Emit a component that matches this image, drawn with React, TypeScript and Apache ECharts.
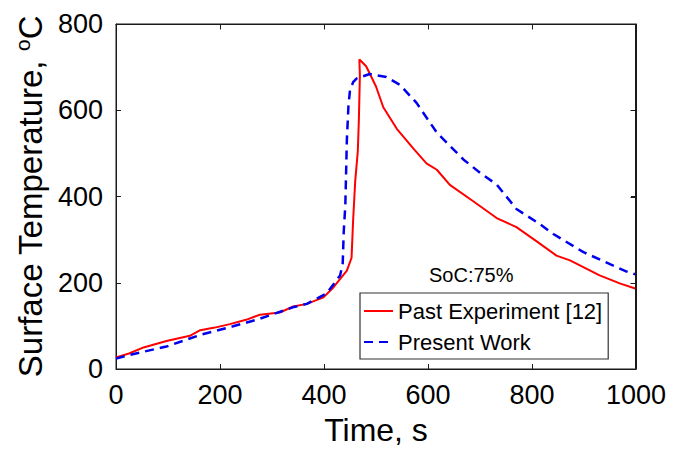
import React, { useEffect, useRef } from "react";
import * as echarts from "echarts";

const xTicks = [0, 200, 400, 600, 800, 1000];
const yTicks = [0, 200, 400, 600, 800];

const pastTime = [0, 25, 53, 97, 142, 162, 190, 219, 250, 277, 315, 341, 367, 399, 418, 432, 444, 453, 456, 460, 465, 467, 469, 468, 473, 481, 490, 500, 514, 540, 572, 597, 617, 642, 687, 732, 770, 809, 847, 873, 930, 970, 1000];
const pastTemp = [27, 36, 50, 65, 77, 90, 96, 104, 114, 126, 131, 145, 151, 166, 189, 210, 228, 258, 345, 435, 505, 575, 680, 718, 712, 702, 680, 655, 607, 557, 511, 477, 462, 427, 389, 350, 329, 296, 263, 252, 217, 198, 186];

const presentTime = [0, 27, 97, 162, 225, 270, 302, 340, 367, 405, 431, 436, 438, 441, 444, 447, 450, 456, 463, 488, 520, 546, 578, 617, 668, 700, 732, 770, 815, 841, 899, 950, 982, 1000];
const presentTemp = [24, 33, 52, 79, 99, 114, 127, 143, 151, 175, 217, 245, 320, 379, 532, 610, 647, 665, 674, 684, 677, 659, 617, 548, 486, 455, 428, 371, 336, 313, 271, 243, 226, 219];

const pastData = pastTime.map((t, i) => [t, pastTemp[i]]);
const presentData = presentTime.map((t, i) => [t, presentTemp[i]]);

const FONT = "Liberation Sans, Arial, sans-serif";

export default function App() {
  const ref = useRef<HTMLDivElement>(null);
  useEffect(() => {
    if (!ref.current) return;
    document.body.style.margin = "0";
    const chart = echarts.init(ref.current, null, { renderer: "svg" });
    const axisCommon = {
      type: "value" as const,
      axisLine: { show: true, onZero: false, lineStyle: { color: "#1a1a1a", width: 1 } },
      axisTick: { show: true, inside: true, length: 5, lineStyle: { color: "#1a1a1a", width: 1 } },
      splitLine: { show: false },
    };
    const fmt = (v: number) => String(v);
    const socText = {
      id: "soc",
      type: "text",
      left: 429,
      top: 265,
      style: { text: "SoC:75%", fontSize: 20, fill: "#000", fontFamily: FONT },
    };
    chart.setOption({
      animation: false,
      textStyle: { fontFamily: FONT },
      grid: {
        left: 116,
        right: 50,
        top: 24,
        bottom: 80,
        containLabel: false,
        show: true,
        borderColor: "#1a1a1a",
        borderWidth: 1,
      },
      xAxis: [
        {
          ...axisCommon,
          position: "bottom",
          min: xTicks[0],
          max: xTicks[xTicks.length - 1],
          interval: 200,
          axisLabel: { fontSize: 27, color: "#000", margin: 12, fontFamily: FONT, formatter: fmt },
          name: "Time, s",
          nameLocation: "middle",
          nameGap: 45,
          nameTextStyle: { fontSize: 32, color: "#000", fontFamily: FONT },
        },
        {
          ...axisCommon,
          position: "top",
          min: xTicks[0],
          max: xTicks[xTicks.length - 1],
          interval: 200,
          axisLabel: { show: false },
        },
      ],
      yAxis: [
        {
          ...axisCommon,
          position: "left",
          min: yTicks[0],
          max: yTicks[yTicks.length - 1],
          interval: 200,
          axisLabel: { fontSize: 27, color: "#000", margin: 13, fontFamily: FONT, formatter: fmt },
          name: "Surface Temperature, {sup|o}C",
          nameLocation: "middle",
          nameGap: 66,
          nameTextStyle: {
            fontSize: 33,
            color: "#000",
            fontFamily: FONT,
            rich: {
              sup: { fontSize: 21, color: "#000", fontFamily: FONT, padding: [0, 0, 17, 0] },
            },
          },
        },
        {
          ...axisCommon,
          position: "right",
          min: yTicks[0],
          max: yTicks[yTicks.length - 1],
          interval: 200,
          axisLabel: { show: false },
        },
      ],
      legend: {
        orient: "vertical",
        left: 360,
        top: 293,
        itemWidth: 29,
        itemHeight: 14,
        itemGap: 7,
        padding: [6, 6, 5, 3],
        borderColor: "#333",
        borderWidth: 1.2,
        borderRadius: 0,
        backgroundColor: "#fff",
        itemStyle: { opacity: 0 },
        textStyle: { fontSize: 22, lineHeight: 24, color: "#000", fontFamily: FONT },
        data: ["Past Experiment [12]", "Present Work"],
      },
      graphic: [socText],
      series: [
        {
          name: "Past Experiment [12]",
          type: "line",
          data: pastData,
          symbol: "none",
          showSymbol: false,
          lineStyle: { color: "#ff0000", width: 2 },
          itemStyle: { color: "#ff0000" },
        },
        {
          name: "Present Work",
          type: "line",
          data: presentData,
          symbol: "none",
          showSymbol: false,
          lineStyle: { color: "#0000ee", width: 2.5, type: [9, 6] },
          itemStyle: { color: "#0000ee" },
        },
      ],
    });

    try {
      const finder = { gridIndex: 0 };
      const lo = chart.convertToPixel(finder as any, [xTicks[0], yTicks[0]]) as number[];
      const hi = chart.convertToPixel(finder as any, [xTicks[xTicks.length - 1], yTicks[yTicks.length - 1]]) as number[];
      if (lo && hi && isFinite(lo[0]) && isFinite(hi[1])) {
        const x0 = Math.round(lo[0]) + 0.5;
        const x1 = Math.round(hi[0]) - 0.5;
        const y0 = Math.round(lo[1]) - 0.5;
        const y1 = Math.round(hi[1]) + 0.5;
        const stroke = { stroke: "#1a1a1a", lineWidth: 1 };
        const extra: any[] = [
          { id: "fTop", type: "line", silent: true, z: 10, shape: { x1: x0, y1: y1, x2: x1, y2: y1 }, style: stroke },
          { id: "fRight", type: "line", silent: true, z: 10, shape: { x1: x1, y1: y1, x2: x1, y2: y0 }, style: stroke },
        ];
        xTicks.slice(1, -1).forEach((v, i) => {
          const p = chart.convertToPixel(finder as any, [v, yTicks[0]]) as number[];
          const x = Math.round(p[0]) + 0.5;
          extra.push({ id: "tx" + i, type: "line", silent: true, z: 10, shape: { x1: x, y1: y1, x2: x, y2: y1 + 5 }, style: stroke });
        });
        yTicks.slice(1, -1).forEach((v, i) => {
          const p = chart.convertToPixel(finder as any, [xTicks[0], v]) as number[];
          const y = Math.round(p[1]) + 0.5;
          extra.push({ id: "ty" + i, type: "line", silent: true, z: 10, shape: { x1: x1, y1: y, x2: x1 - 5, y2: y }, style: stroke });
        });
        chart.setOption({ graphic: [socText, ...extra] });
      }
    } catch (e) {
      // keep the chart as drawn
    }
    return () => chart.dispose();
  }, []);
  return <div ref={ref} style={{ width: 686, height: 451 }} />;
}
